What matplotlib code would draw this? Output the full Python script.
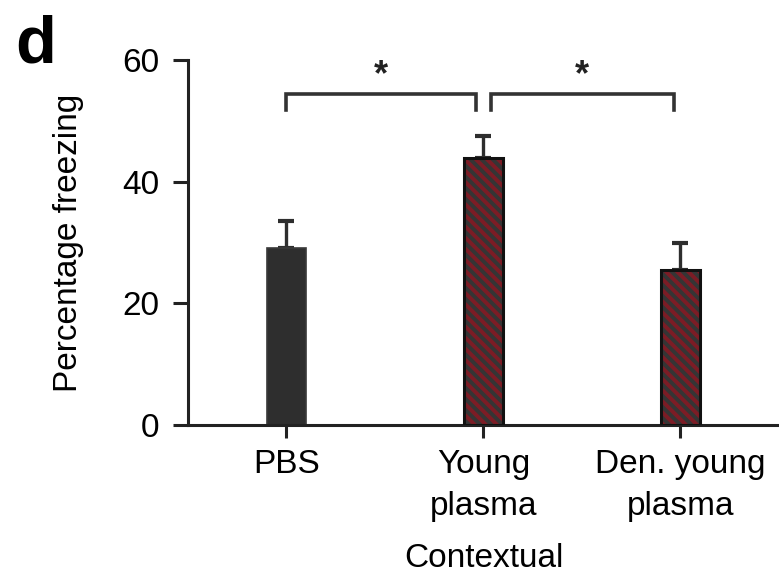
import numpy as np
import matplotlib
matplotlib.use('Agg')
import matplotlib.pyplot as plt

# data
groups = ['PBS', 'Young\nplasma', 'Den. young\nplasma']
means = [29.1, 43.9, 25.5]
errs = [4.4, 3.6, 4.4]
hatched = [False, True, True]
xlab = 'Contextual'
ylab = 'Percentage freezing'
yticks = [0, 20, 40, 60]
# significance brackets (x from, x to) and star height
brackets = [(0, 0.96), (1.037, 1.967)]
bracket_y = 54.4
bracket_leg = 51.8

plt.rcParams['font.family'] = ['Liberation Sans', 'DejaVu Sans']
plt.rcParams['hatch.linewidth'] = 2.8

fig = plt.figure(figsize=(7.79, 5.77), dpi=100)
ax = fig.add_axes([0.2413, 0.2634, 0.7587, 0.6326])

fs = 24
x = np.arange(len(groups))
w = 0.2
for i in range(len(groups)):
    if hatched[i]:
        ax.bar(x[i], means[i], w, color='#7c1c25', edgecolor='#353535',
               hatch='\\\\\\', linewidth=0, zorder=2)
        ax.bar(x[i], means[i], w, fill=False, edgecolor='#111111',
               linewidth=2.2, zorder=3)
    else:
        ax.bar(x[i], means[i], w, color='#2e2e2e', edgecolor='#3a3a3a',
               linewidth=1.2, zorder=2)
    ax.errorbar(x[i], means[i], yerr=[[0], [errs[i]]], fmt='none',
                ecolor='#2e2e2e', elinewidth=2.4, capsize=6, capthick=3, zorder=1)

for a, b in brackets:
    ax.plot([a, a, b, b], [bracket_leg, bracket_y, bracket_y, bracket_leg],
            color='#333333', lw=2.6, solid_joinstyle='miter', clip_on=False)
    ax.text((a + b) / 2, 57.4, '*', ha='center', va='center', fontsize=26,
            fontweight='bold', color='#222222')

ax.set_xlim(-0.5, 2.5)
ax.set_ylim(0, 60)
ax.set_yticks(yticks)
ax.set_xticks(x)
ax.set_xticklabels(groups, fontsize=fs, linespacing=1.47)
ax.tick_params(axis='y', labelsize=fs, length=10.8, width=2.2, pad=10, color='#222222')
ax.tick_params(axis='x', length=9.4, width=2.2, pad=8, color='#222222')
for s in ['top', 'right']:
    ax.spines[s].set_visible(False)
for s in ['left', 'bottom']:
    ax.spines[s].set_linewidth(2.2)
    ax.spines[s].set_color('#222222')

ax.set_ylabel(ylab, fontsize=fs, labelpad=27)
ax.set_xlabel(xlab, fontsize=fs, labelpad=15)

fig.text(0.019, 0.891, 'd', fontsize=48, fontweight='bold', ha='left', va='baseline')

fig.savefig('out.png', dpi=100)
